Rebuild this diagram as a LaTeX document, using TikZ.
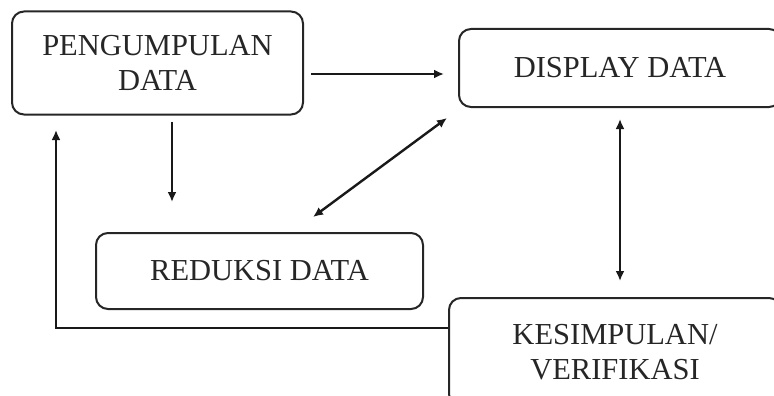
\documentclass[tikz,border=0pt]{standalone}
\usepackage{fontspec}
\setmainfont{Liberation Serif}
\usetikzlibrary{arrows.meta, positioning}

\begin{document}
\begin{tikzpicture}[x=1pt, y=-1pt,
    flowbox/.style={rectangle, rounded corners=12pt, draw=black!85, line width=2pt,
      align=center, inner sep=0pt, text=black!85,
      font=\fontsize{30.5}{35}\selectfont},
    arr/.style={-{Latex[length=10pt, width=9pt]}, line width=2.4pt, black!90},
    biarr/.style={{Latex[length=10pt, width=9pt]}-{Latex[length=10pt, width=9pt]}, line width=2.4pt, black!90}
  ]
    \useasboundingbox (0,0) rectangle (774,396);

    \node[flowbox, minimum width=291pt, minimum height=103pt] (kumpul) at (157.5,63)
      {PENGUMPULAN\\DATA};
    \node[flowbox, minimum width=322pt, minimum height=78pt] (display) at (620,68)
      {DISPLAY DATA};
    \node[flowbox, minimum width=327pt, minimum height=76pt] (reduksi) at (259.5,271)
      {REDUKSI DATA};
    \node[flowbox, minimum width=332pt, minimum height=108pt] (simpul) at (615,352)
      {KESIMPULAN/\\VERIFIKASI};

    \draw[arr, shorten <=7pt, shorten >=14pt] ([yshift=-11pt]kumpul.east)
      -- ([yshift=-11pt]kumpul.east -| display.west);
    \draw[arr, shorten <=6pt, shorten >=30pt] ([xshift=14.5pt]kumpul.south)
      -- ([xshift=14.5pt]kumpul.south |- reduksi.north);
    \draw[biarr] ([xshift=53.5pt, yshift=15pt]reduksi.north)
      -- ([xshift=-11pt, yshift=-10pt]display.south west);
    \draw[biarr, shorten <=11pt, shorten >=16pt] (display.south)
      -- (display.south |- simpul.north);
    \draw[arr] ([yshift=24pt]simpul.west)
      -| ([xshift=-101.5pt, yshift=-14.5pt]kumpul.south);
  \end{tikzpicture}
\end{document}
